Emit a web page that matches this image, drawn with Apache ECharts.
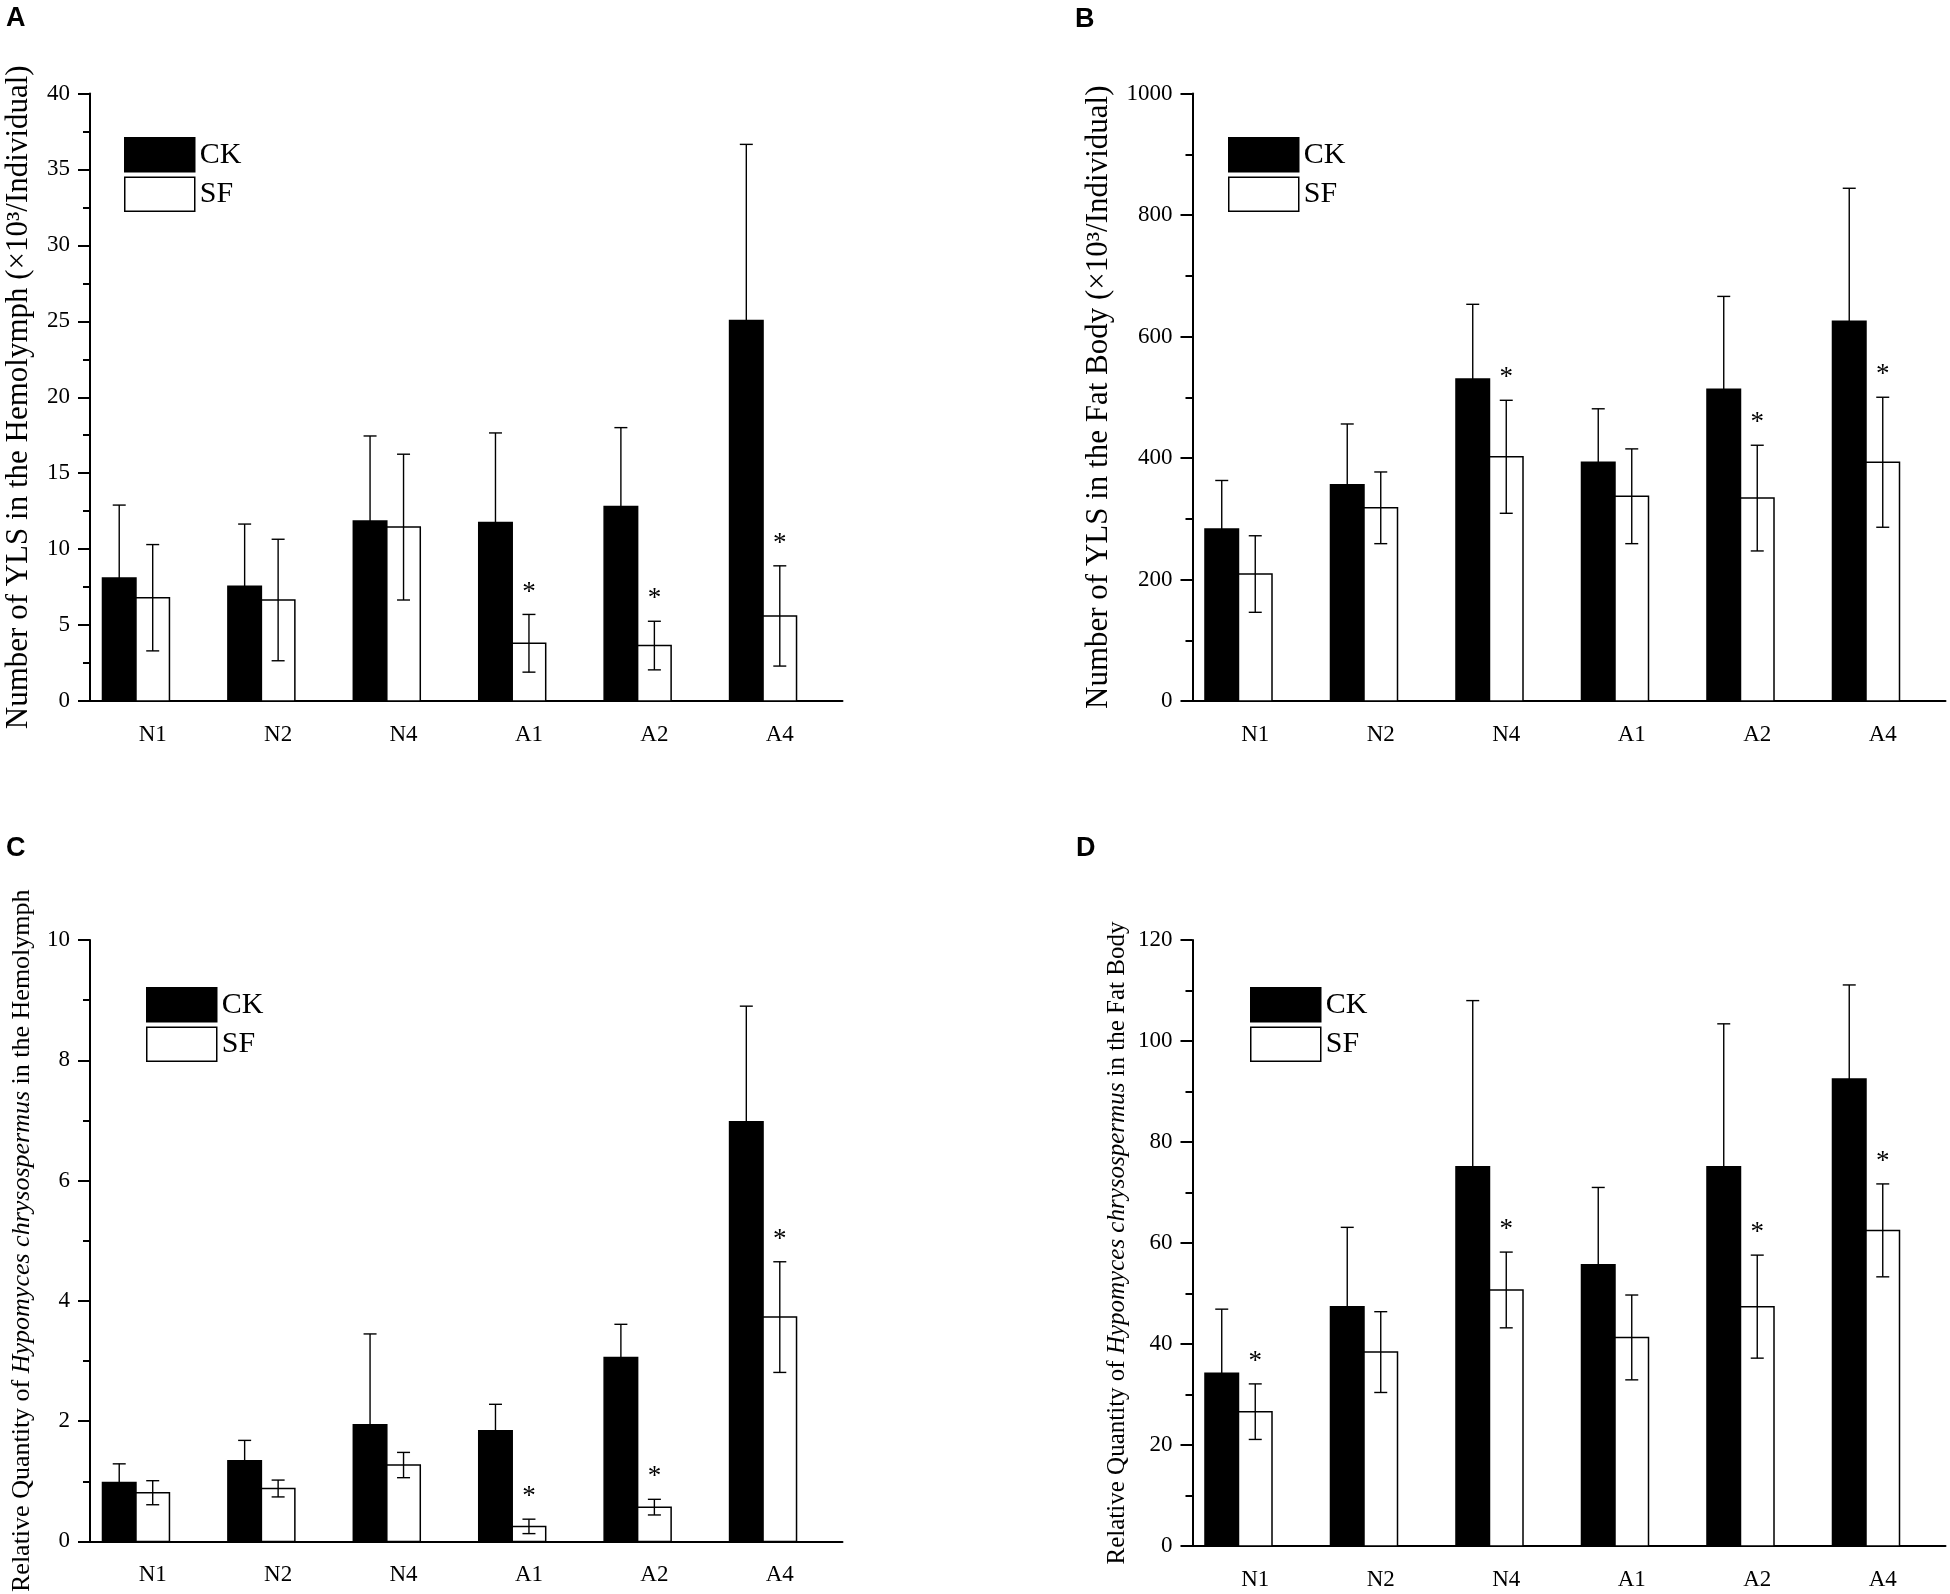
<!DOCTYPE html>
<html lang="en">
<head>
<meta charset="UTF-8">
<title>YLS and Hypomyces chrysospermus</title>
<script src="https://cdn.jsdelivr.net/npm/echarts@6.0.0/dist/echarts.min.js"></script>
<style>
    html, body { margin: 0; padding: 0; background: #fff; }
    #myChart { width: 1950px; height: 1594px; }
</style>
</head>
<body>
<div id="myChart"></div>
<script>
    var stages = ['N1', 'N2', 'N4', 'A1', 'A2', 'A4'];

    // A: number of YLS in the hemolymph (x10^3 / individual)
    var ylsHemoCK = [8.1, 7.55, 11.85, 11.75, 12.8, 25.05];
    var ylsHemoCKErr = [4.8, 4.1, 5.6, 5.9, 5.2, 11.6];
    var ylsHemoSF = [6.8, 6.65, 11.45, 3.8, 3.65, 5.6];
    var ylsHemoSFErr = [3.5, 4.0, 4.8, 1.9, 1.6, 3.3];
    var ylsHemoSig = [0, 0, 0, 1, 1, 1];

    // B: number of YLS in the fat body (x10^3 / individual)
    var ylsFatCK = [283, 356, 530, 393, 513, 625];
    var ylsFatCKErr = [80, 100, 123, 88, 153, 219];
    var ylsFatSF = [209, 318, 402, 337, 334, 393];
    var ylsFatSFErr = [63, 59, 93, 78, 87, 107];
    var ylsFatSig = [0, 0, 1, 0, 1, 1];

    // C: relative quantity of H. chrysospermus in the hemolymph
    var hcHemoCK = [0.98, 1.34, 1.94, 1.84, 3.06, 6.98];
    var hcHemoCKErr = [0.31, 0.34, 1.51, 0.44, 0.55, 1.92];
    var hcHemoSF = [0.81, 0.88, 1.27, 0.25, 0.57, 3.73];
    var hcHemoSFErr = [0.2, 0.14, 0.21, 0.12, 0.13, 0.92];
    var hcHemoSig = [0, 0, 0, 1, 1, 1];

    // D: relative quantity of H. chrysospermus in the fat body
    var hcFatCK = [34.2, 47.4, 75.1, 55.7, 75.1, 92.5];
    var hcFatCKErr = [12.7, 15.7, 32.9, 15.3, 28.3, 18.6];
    var hcFatSF = [26.6, 38.4, 50.7, 41.3, 47.4, 62.5];
    var hcFatSFErr = [5.5, 8.0, 7.5, 8.4, 10.2, 9.2];
    var hcFatSig = [1, 0, 1, 0, 1, 1];

    var serif = "'Liberation Serif', 'Times New Roman', serif";

    var panels = [
        {
            letter: 'A', letterX: 6, letterY: 5,
            grid: {left: 90, top: 93.5, width: 752.5, height: 607.5},
            legendLeft: 124, legendTop: 137,
            max: 40, interval: 5, nameGap: 56, nameSize: 31,
            name: 'Number of YLS in the Hemolymph (×10³/Individual)',
            ck: ylsHemoCK, ckErr: ylsHemoCKErr, sf: ylsHemoSF, sfErr: ylsHemoSFErr, sig: ylsHemoSig
        },
        {
            letter: 'B', letterX: 1075, letterY: 6,
            grid: {left: 1192.5, top: 93.5, width: 753, height: 607.5},
            legendLeft: 1228, legendTop: 137,
            max: 1000, interval: 200, nameGap: 78, nameSize: 31,
            name: 'Number of YLS in the Fat Body (×10³/Individual)',
            ck: ylsFatCK, ckErr: ylsFatCKErr, sf: ylsFatSF, sfErr: ylsFatSFErr, sig: ylsFatSig
        },
        {
            letter: 'C', letterX: 6, letterY: 835,
            grid: {left: 90, top: 940, width: 752.5, height: 606},
            legendLeft: 146, legendTop: 987,
            max: 10, interval: 2, nameGap: 55, nameSize: 26,
            name: 'Relative Quantity of {i|Hypomyces chrysospermus} in the Hemolymph',
            ck: hcHemoCK, ckErr: hcHemoCKErr, sf: hcHemoSF, sfErr: hcHemoSFErr, sig: hcHemoSig
        },
        {
            letter: 'D', letterX: 1076, letterY: 835,
            grid: {left: 1192.5, top: 940, width: 753, height: 606},
            legendLeft: 1250, legendTop: 987,
            max: 120, interval: 20, nameGap: 63, nameSize: 25,
            name: 'Relative Quantity of {i|Hypomyces chrysospermus} in the Fat Body',
            ck: hcFatCK, ckErr: hcFatCKErr, sf: hcFatSF, sfErr: hcFatSFErr, sig: hcFatSig
        }
    ];

    // bars + error bars + significance stars, placed via the axes' own scales
    function renderGroup(isCK) {
        return function (params, api) {
            var i = api.value(0), v = api.value(1), e = api.value(2), sig = api.value(3);
            var top = api.coord([i, v]);
            var base = api.coord([i, 0]);
            var band = api.size([1, 0])[0];
            var bw = band * 0.267;
            var cx = isCK ? top[0] - bw : top[0];
            var hi = api.coord([i, v + e])[1];
            var lo = isCK ? top[1] : api.coord([i, v - e])[1];
            var cap = 6.5;
            var line = {stroke: '#000', lineWidth: 1.4};
            var children = [
                {
                    type: 'rect',
                    shape: {x: cx - bw / 2, y: top[1], width: bw, height: base[1] - top[1]},
                    style: {fill: isCK ? '#000' : '#fff', stroke: '#000', lineWidth: 1.5}
                },
                {type: 'line', shape: {x1: cx, y1: hi, x2: cx, y2: lo}, style: line},
                {type: 'line', shape: {x1: cx - cap, y1: hi, x2: cx + cap, y2: hi}, style: line}
            ];
            if (!isCK) {
                children.push({type: 'line', shape: {x1: cx - cap, y1: lo, x2: cx + cap, y2: lo}, style: line});
            }
            if (sig) {
                children.push({
                    type: 'text',
                    style: {
                        text: '*', x: cx, y: hi - 22, fill: '#000',
                        fontSize: 27, fontFamily: serif, align: 'center', verticalAlign: 'middle'
                    }
                });
            }
            return {type: 'group', children: children};
        };
    }

    var grids = [], xAxes = [], yAxes = [], series = [], legends = [], letters = [];

    panels.forEach(function (p, g) {
        grids.push(p.grid);

        xAxes.push({
            type: 'category', gridIndex: g, data: stages, boundaryGap: true,
            axisLine: {lineStyle: {color: '#000', width: 2}},
            axisTick: {length: 5, lineStyle: {color: '#000', width: 2}},
            axisLabel: {color: '#000', fontSize: 23, fontFamily: serif, margin: 22},
            splitLine: {show: false}
        });
        // centre ticks under each label
        xAxes.push({
            type: 'category', gridIndex: g, data: stages, position: 'bottom',
            axisLine: {show: false},
            axisTick: {alignWithLabel: true, length: 10, lineStyle: {color: '#000', width: 2}},
            axisLabel: {show: false},
            splitLine: {show: false}
        });

        yAxes.push({
            type: 'value', gridIndex: g, min: 0, max: p.max, interval: p.interval,
            name: p.name, nameLocation: 'middle', nameGap: p.nameGap, nameRotate: 90,
            nameTextStyle: {
                color: '#000', fontSize: p.nameSize, fontFamily: serif,
                rich: {i: {fontStyle: 'italic', fontSize: p.nameSize, fontFamily: serif, color: '#000'}}
            },
            axisLine: {show: true, lineStyle: {color: '#000', width: 2}},
            axisTick: {show: true, length: 12, lineStyle: {color: '#000', width: 2}},
            minorTick: {show: true, splitNumber: 2, length: 7, lineStyle: {color: '#000', width: 2}},
            axisLabel: {
                color: '#000', fontSize: 23, fontFamily: serif, margin: 20,
                formatter: function (val) { return String(val); }
            },
            splitLine: {show: false}
        });

        series.push({
            name: 'CK', type: 'custom', xAxisIndex: g * 2, yAxisIndex: g,
            itemStyle: {color: '#000'},
            renderItem: renderGroup(true),
            data: stages.map(function (s, i) { return [i, p.ck[i], p.ckErr[i], 0]; })
        });
        series.push({
            name: 'SF', type: 'custom', xAxisIndex: g * 2, yAxisIndex: g,
            itemStyle: {color: '#fff', borderColor: '#000', borderWidth: 1.5},
            renderItem: renderGroup(false),
            data: stages.map(function (s, i) { return [i, p.sf[i], p.sfErr[i], p.sig[i]]; })
        });

        legends.push({
            left: p.legendLeft, top: p.legendTop, orient: 'vertical', padding: 0,
            icon: 'rect', itemWidth: 70, itemHeight: 34, itemGap: 4, selectedMode: false,
            textStyle: {color: '#000', fontSize: 30, fontFamily: serif},
            data: [
                {name: 'CK', itemStyle: {color: '#000', borderColor: '#000', borderWidth: 1.5}},
                {name: 'SF', itemStyle: {color: '#fff', borderColor: '#000', borderWidth: 1.5}}
            ]
        });

        letters.push({
            type: 'text', left: p.letterX, top: p.letterY,
            style: {text: p.letter, fill: '#000', font: "bold 27px 'Liberation Sans', Arial, sans-serif"}
        });
    });

    var myChart = echarts.init(document.getElementById('myChart'));
    myChart.setOption({
        animation: false,
        backgroundColor: '#fff',
        grid: grids,
        xAxis: xAxes,
        yAxis: yAxes,
        legend: legends,
        graphic: letters,
        series: series
    });
</script>
</body>
</html>
